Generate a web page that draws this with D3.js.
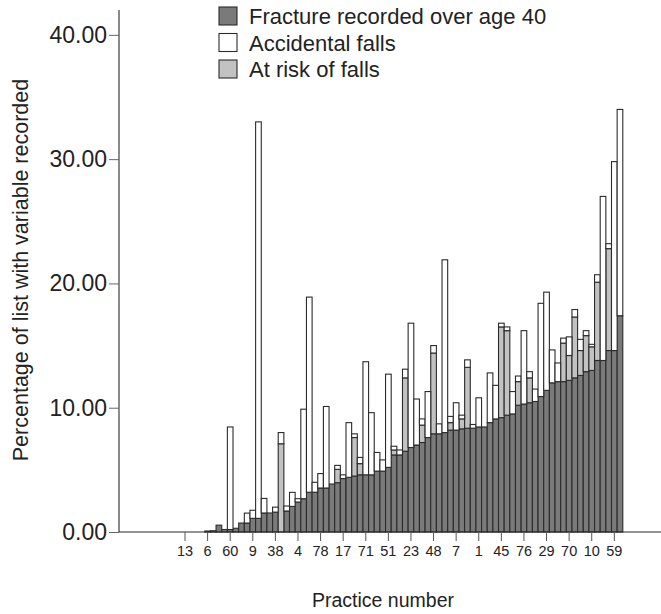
<!DOCTYPE html>
<html>
<head>
<meta charset="utf-8">
<script src="https://cdn.jsdelivr.net/npm/d3@7"></script>
<style>
  html, body { margin: 0; padding: 0; background: #fff; }
  svg { display: block; font-family: "Liberation Sans", Arial, Helvetica, sans-serif; }
</style>
</head>
<body>
<svg id="chart" width="661" height="614"></svg>
<script>
// Tick labels (every 4th practice is labelled on the x axis)
const tickLabels = ["13","6","60","9","38","4","78","17","71","51","23","48","7","1","45","76","29","70","10","59"];

// Series values (percentage of list), one per practice, in plotted order
const fracture = [
  0,0,0,0,0.08,0.1,0.55,0.2,0.2,0.3,
  0.72,0.72,1.1,1.1,1.53,1.53,1.6,0,1.69,2.06,
  2.41,2.68,3.2,3.2,3.54,3.54,3.86,3.97,4.3,4.4,
  4.5,4.6,4.6,4.6,4.9,4.9,5.2,6.2,6.2,6.5,
  6.8,7.0,7.2,7.6,7.9,7.9,8.0,8.2,8.2,8.3,
  8.35,8.35,8.45,8.45,8.8,9.1,9.2,9.4,9.5,10.2,
  10.3,10.4,10.5,10.9,11.4,12.0,12.1,12.1,12.2,12.4,
  12.6,12.9,13.0,13.8,13.8,14.6,14.6,17.4
];
const atRisk = [
  0,0,0,0,0,0,0,0,0,0,
  0,0,0,0,0,0,0,7.1,0,0,
  0,0,0,0,0,0,0,1.07,0,0,
  3.1,0.9,0,0,0,0,0,0.4,0,5.9,
  0,0,1.4,0,6.5,0,0,0.6,0,0.8,
  4.9,0,0,0,0,0,7.3,6.8,0,1.9,
  0,2.0,0,0,0,0,0,3.1,2.0,4.9,
  2.0,2.9,1.9,6.3,0,8.2,0,0
];
const accidental = [
  0,0,0,0,0,0,0,0,8.25,0,
  0,0.8,0.65,31.9,1.17,0,0.4,0.9,0.4,1.13,
  0.27,7.2,15.7,0.8,1.16,6.56,0,0.32,0.3,4.4,
  0.3,0.5,9.1,5.0,1.5,0.9,7.5,0.3,0.4,0.7,
  10.0,3.7,0.5,3.7,0.6,0.8,13.9,0.5,2.2,0.3,
  0.6,0.3,2.35,0,4.0,2.7,0.3,0.3,1.8,0.45,
  5.9,0.5,1.0,7.5,7.9,2.65,1.5,0.4,1.5,0.6,
  0.9,0.4,0.2,0.6,13.2,0.4,15.2,16.6
];

const seriesKeys = ["fracture", "atRisk", "accidental"];
const seriesColors = { fracture: "#7a7a7a", atRisk: "#c2c2c2", accidental: "#ffffff" };
const legendItems = [
  { key: "fracture", label: "Fracture recorded over age 40" },
  { key: "accidental", label: "Accidental falls" },
  { key: "atRisk", label: "At risk of falls" }
];
const yTicks = [0, 10, 20, 30, 40];

const table = fracture.map((v, i) => ({ idx: i, fracture: v, atRisk: atRisk[i], accidental: accidental[i] }));

const svg = d3.select("#chart");
const step = 5.649;
const x0 = 185 - step / 2;
const x = d3.scaleBand()
  .domain(d3.range(fracture.length))
  .range([x0, x0 + step * fracture.length])
  .padding(0);
const y = d3.scaleLinear().domain([0, 42]).range([532, 10]);

const stack = d3.stack().keys(seriesKeys)(table);

const ink = "#2b2b2b";

// bars
svg.append("g").selectAll("g")
  .data(stack)
  .join("g")
  .attr("fill", d => seriesColors[d.key])
  .selectAll("rect")
  .data(d => d.filter(s => s[1] - s[0] > 0))
  .join("rect")
  .attr("x", d => x(d.data.idx))
  .attr("width", x.bandwidth())
  .attr("y", d => y(d[1]))
  .attr("height", d => y(d[0]) - y(d[1]))
  .attr("stroke", ink)
  .attr("stroke-width", 1.1);

// y axis
const yAxis = svg.append("g")
  .attr("transform", "translate(119,0)")
  .call(d3.axisLeft(y).tickValues(yTicks).tickFormat(d3.format(".2f")).tickSize(10).tickPadding(2));
yAxis.select(".domain").attr("d", `M0,${y(42)}V${y(0)}`).attr("stroke", ink).attr("stroke-width", 1.1);
yAxis.selectAll(".tick line").attr("stroke", "#666");
yAxis.selectAll(".tick text").attr("font-size", 23).attr("fill", "#222");

// x axis
const xAxis = svg.append("g")
  .attr("transform", "translate(0,532)")
  .call(d3.axisBottom(x)
    .tickValues(d3.range(0, fracture.length, 4))
    .tickFormat((d, i) => tickLabels[i])
    .tickSize(9).tickPadding(5));
xAxis.select(".domain").attr("d", "M119,0H661").attr("stroke", ink).attr("stroke-width", 1.1);
xAxis.selectAll(".tick line").attr("stroke", "#555");
xAxis.selectAll(".tick text").attr("font-size", 14.5).attr("fill", "#222");

// axis titles
svg.append("text")
  .attr("x", 383).attr("y", 607)
  .attr("text-anchor", "middle")
  .attr("font-size", 19.5).attr("fill", "#222")
  .text("Practice number");
svg.append("text")
  .attr("transform", "translate(28,270) rotate(-90)")
  .attr("text-anchor", "middle")
  .attr("font-size", 21.5).attr("fill", "#222")
  .text("Percentage of list with variable recorded");

// legend
const legend = svg.append("g");
legendItems.forEach((it, i) => {
  const cy = 16 + i * 26.5;
  legend.append("rect")
    .attr("x", 219).attr("y", cy - 9).attr("width", 18).attr("height", 18)
    .attr("fill", seriesColors[it.key]).attr("stroke", ink).attr("stroke-width", 1.1);
  legend.append("text")
    .attr("x", 249).attr("y", cy + 8)
    .attr("font-size", 22).attr("fill", "#222")
    .text(it.label);
});
</script>
</body>
</html>
